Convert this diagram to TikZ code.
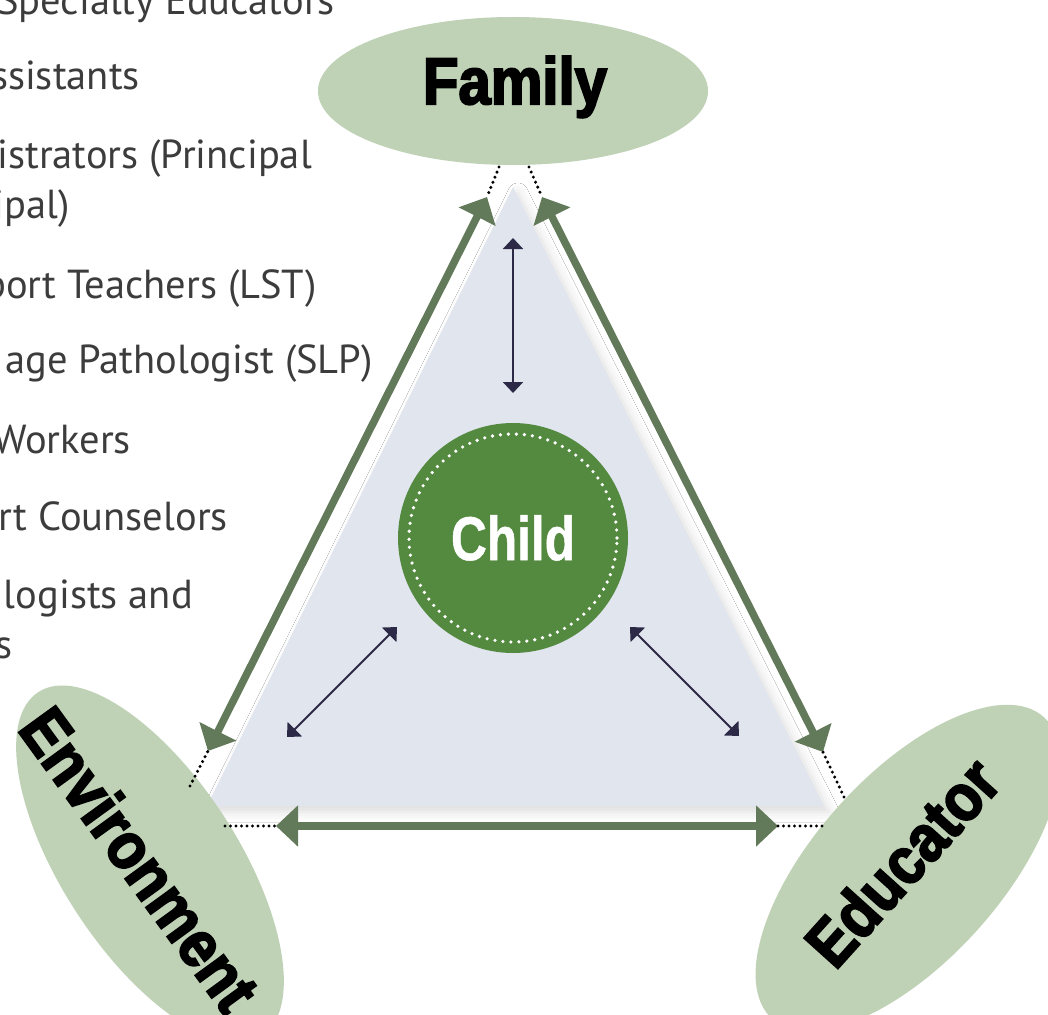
\documentclass[tikz,border=0pt]{standalone}
\usepackage{fontspec}
\setmainfont{PT Sans}
\newfontfamily\heavy[FakeStretch=0.88,FakeBold=3]{Liberation Sans Bold}
\newfontfamily\chfont[FakeStretch=0.8,FakeBold=0.8]{Liberation Sans Bold}
\usetikzlibrary{arrows.meta,shapes.geometric,shadows.blur}
\definecolor{ellgreen}{HTML}{BFD2B6}
\definecolor{childgreen}{HTML}{548A40}
\definecolor{trifill}{HTML}{E1E5EE}
\definecolor{agreen}{HTML}{627A5A}
\definecolor{navy}{HTML}{2B2945}
\definecolor{listgray}{HTML}{3C3C3C}
\begin{document}
\begin{tikzpicture}[x=1pt,y=-1pt,
  listtext/.style={anchor=base east, inner sep=0pt, text=listgray, font=\fontsize{40.5}{40.5}\selectfont},
  bigell/.style={ellipse, fill=ellgreen, inner sep=0pt},
  bigtext/.style={inner sep=0pt, text=black, font=\heavy\fontsize{66}{66}\selectfont},
  garrow/.style={draw=agreen, line width=7.5pt, {Triangle[length=22pt,width=40pt]}-{Triangle[length=22pt,width=40pt]}},
  narrow/.style={draw=navy, line width=2pt, {Triangle[length=11pt,width=20pt]}-{Triangle[length=11pt,width=20pt]}},
  dotline/.style={draw=black, line width=3.4pt, line cap=round, dash pattern=on 0pt off 5.5pt}
]
\useasboundingbox (0,0) rectangle (1048,1014);
\fill[white] (0,0) rectangle (1048,1014);

% list text (cut at the left edge)
\node[listtext] (t1) at (335,15) {Specialty Educators};
\node[listtext] (t2) at (140,90) {ssistants};
\node[listtext] (t3) at (312,168) {istrators (Principal};
\node[listtext] (t3b) at (70,218) {ipal)};
\node[listtext] (t4) at (317,298) {port Teachers (LST)};
\node[listtext] (t5) at (373,373) {age Pathologist (SLP)};
\node[listtext] (t6) at (131,453) {Workers};
\node[listtext] (t7) at (228,530) {rt Counselors};
\node[listtext] (t8) at (193,608) {logists and};
\node[listtext] (t8b) at (13,658) {s};

% triangle
\fill[trifill, blur shadow={shadow xshift=5pt, shadow yshift=-6pt, shadow blur radius=10pt, shadow opacity=14}]
  (513,187) -- (207,806) -- (824,806) -- cycle;

% ellipses
\node[bigell, minimum width=390pt, minimum height=148pt] (family) at (513,91) {};
\node[bigtext] (familyt) at (515,87) {Family};
\node[bigell, minimum width=410pt, minimum height=176pt, rotate=-57] (env) at (150,864) {};
\node[bigtext, rotate=-54] (envt) at (140,859) {Environment};
\node[bigell, minimum width=406pt, minimum height=186pt, rotate=48] (edu) at (908,868) {};
\node[bigtext, rotate=48] (edut) at (902,862) {Educator};

% child
\node[circle, fill=childgreen, minimum size=230pt, inner sep=0pt] (child) at (513,538) {};
\draw[white, line width=3.6pt, line cap=round, dash pattern=on 0pt off 8pt] (child.center) circle (104pt);
\node[inner sep=0pt, text=white, font=\chfont\fontsize{62}{62}\selectfont] (childt) at (child.center) {Child};

% coordinates of arrow ends
\coordinate (lt) at (487,197);
\coordinate (lb) at (208,751);
\coordinate (rt) at (542,197);
\coordinate (rb) at (823,752);
\coordinate (bl) at (276,826);
\coordinate (br) at (778,826);
\coordinate (fl) at (499,167);
\coordinate (fr) at (529,167);
\coordinate (el) at (190,786);
\coordinate (eb) at (225,826);
\coordinate (ur) at (844,797);
\coordinate (ub) at (822,826);

\draw[garrow] (lt) -- (lb);
\draw[garrow] (rt) -- (rb);
\draw[garrow] (bl) -- (br);

\draw[dotline] (fl) -- (lt);
\draw[dotline] (fr) -- (rt);
\draw[dotline] (el) -- (lb);
\draw[dotline] (eb) -- (bl);
\draw[dotline] (ur) -- (rb);
\draw[dotline] (ub) -- (br);

% navy arrows
\coordinate (vt) at (513,238);
\coordinate (vb) at (513,393);
\coordinate (dl1) at (397,627);
\coordinate (dl2) at (287,737);
\coordinate (dr1) at (630,627);
\coordinate (dr2) at (739,736);
\draw[narrow] (vt) -- (vb);
\draw[narrow] (dl1) -- (dl2);
\draw[narrow] (dr1) -- (dr2);
\end{tikzpicture}
\end{document}
